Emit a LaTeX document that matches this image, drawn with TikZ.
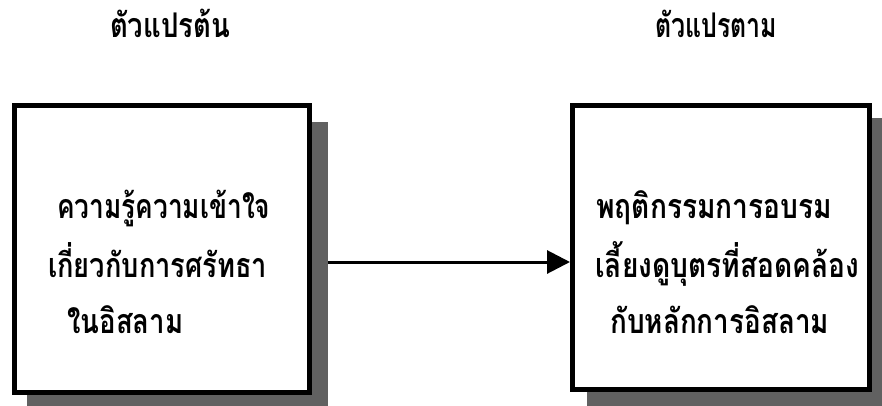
\documentclass[tikz,border=0pt]{standalone}
\usepackage{fontspec}
\newfontfamily\thaifont[Script=Thai]{Loma}
\usetikzlibrary{arrows.meta}
\newcommand\fitw[2]{\resizebox{#1}{\height}{#2}}
\tikzset{
  boxframe/.style={draw=black, line width=5pt, fill=white},
  boxshadow/.style={fill=black!62},
  ttl/.style={font=\thaifont\bfseries\fontsize{34}{36}\selectfont, inner sep=0pt, anchor=base},
  txt/.style={font=\thaifont\bfseries\fontsize{34}{36}\selectfont, inner sep=0pt, anchor=base west},
  link/.style={line width=3pt, -{Triangle[length=23pt,width=23pt]}}
}
\begin{document}
\begin{tikzpicture}[x=1pt,y=-1pt]
\useasboundingbox (0,0) rectangle (882,405);
% shadows
\fill[boxshadow] (27,122) rectangle (328,410);
\fill[boxshadow] (587,118) rectangle (890,410);
% boxes
\node[boxframe, minimum width=295pt, minimum height=287pt, inner sep=0pt] (ind) at (162,249) {};
\node[boxframe, minimum width=297pt, minimum height=284pt, inner sep=0pt] (dep) at (721,247.5) {};
% arrow from shadow edge to right box
\coordinate (start) at (328,262);
\coordinate (stop) at (dep.west |- start);
\draw[link] (start) -- (stop);
% titles
\node[ttl] (t1) at (170,37) {\fitw{120pt}{ตัวแปรต้น}};
\node[ttl] (t2) at (716,37) {\fitw{122pt}{ตัวแปรตาม}};
% left text
\node[txt] (a1) at (57,218) {\fitw{213pt}{ความรู้ความเข้าใจ}};
\node[txt] (a2) at (48,277) {\fitw{219pt}{เกี่ยวกับการศรัทธา}};
\node[txt] (a3) at (67,333) {\fitw{116pt}{ในอิสลาม}};
% right text
\node[txt] (b1) at (596,218) {\fitw{236pt}{พฤติกรรมการอบรม}};
\node[txt] (b2) at (595,277) {\fitw{264pt}{เลี้ยงดูบุตรที่สอดคล้อง}};
\node[txt] (b3) at (610,333) {\fitw{219pt}{กับหลักการอิสลาม}};
\end{tikzpicture}
\end{document}
